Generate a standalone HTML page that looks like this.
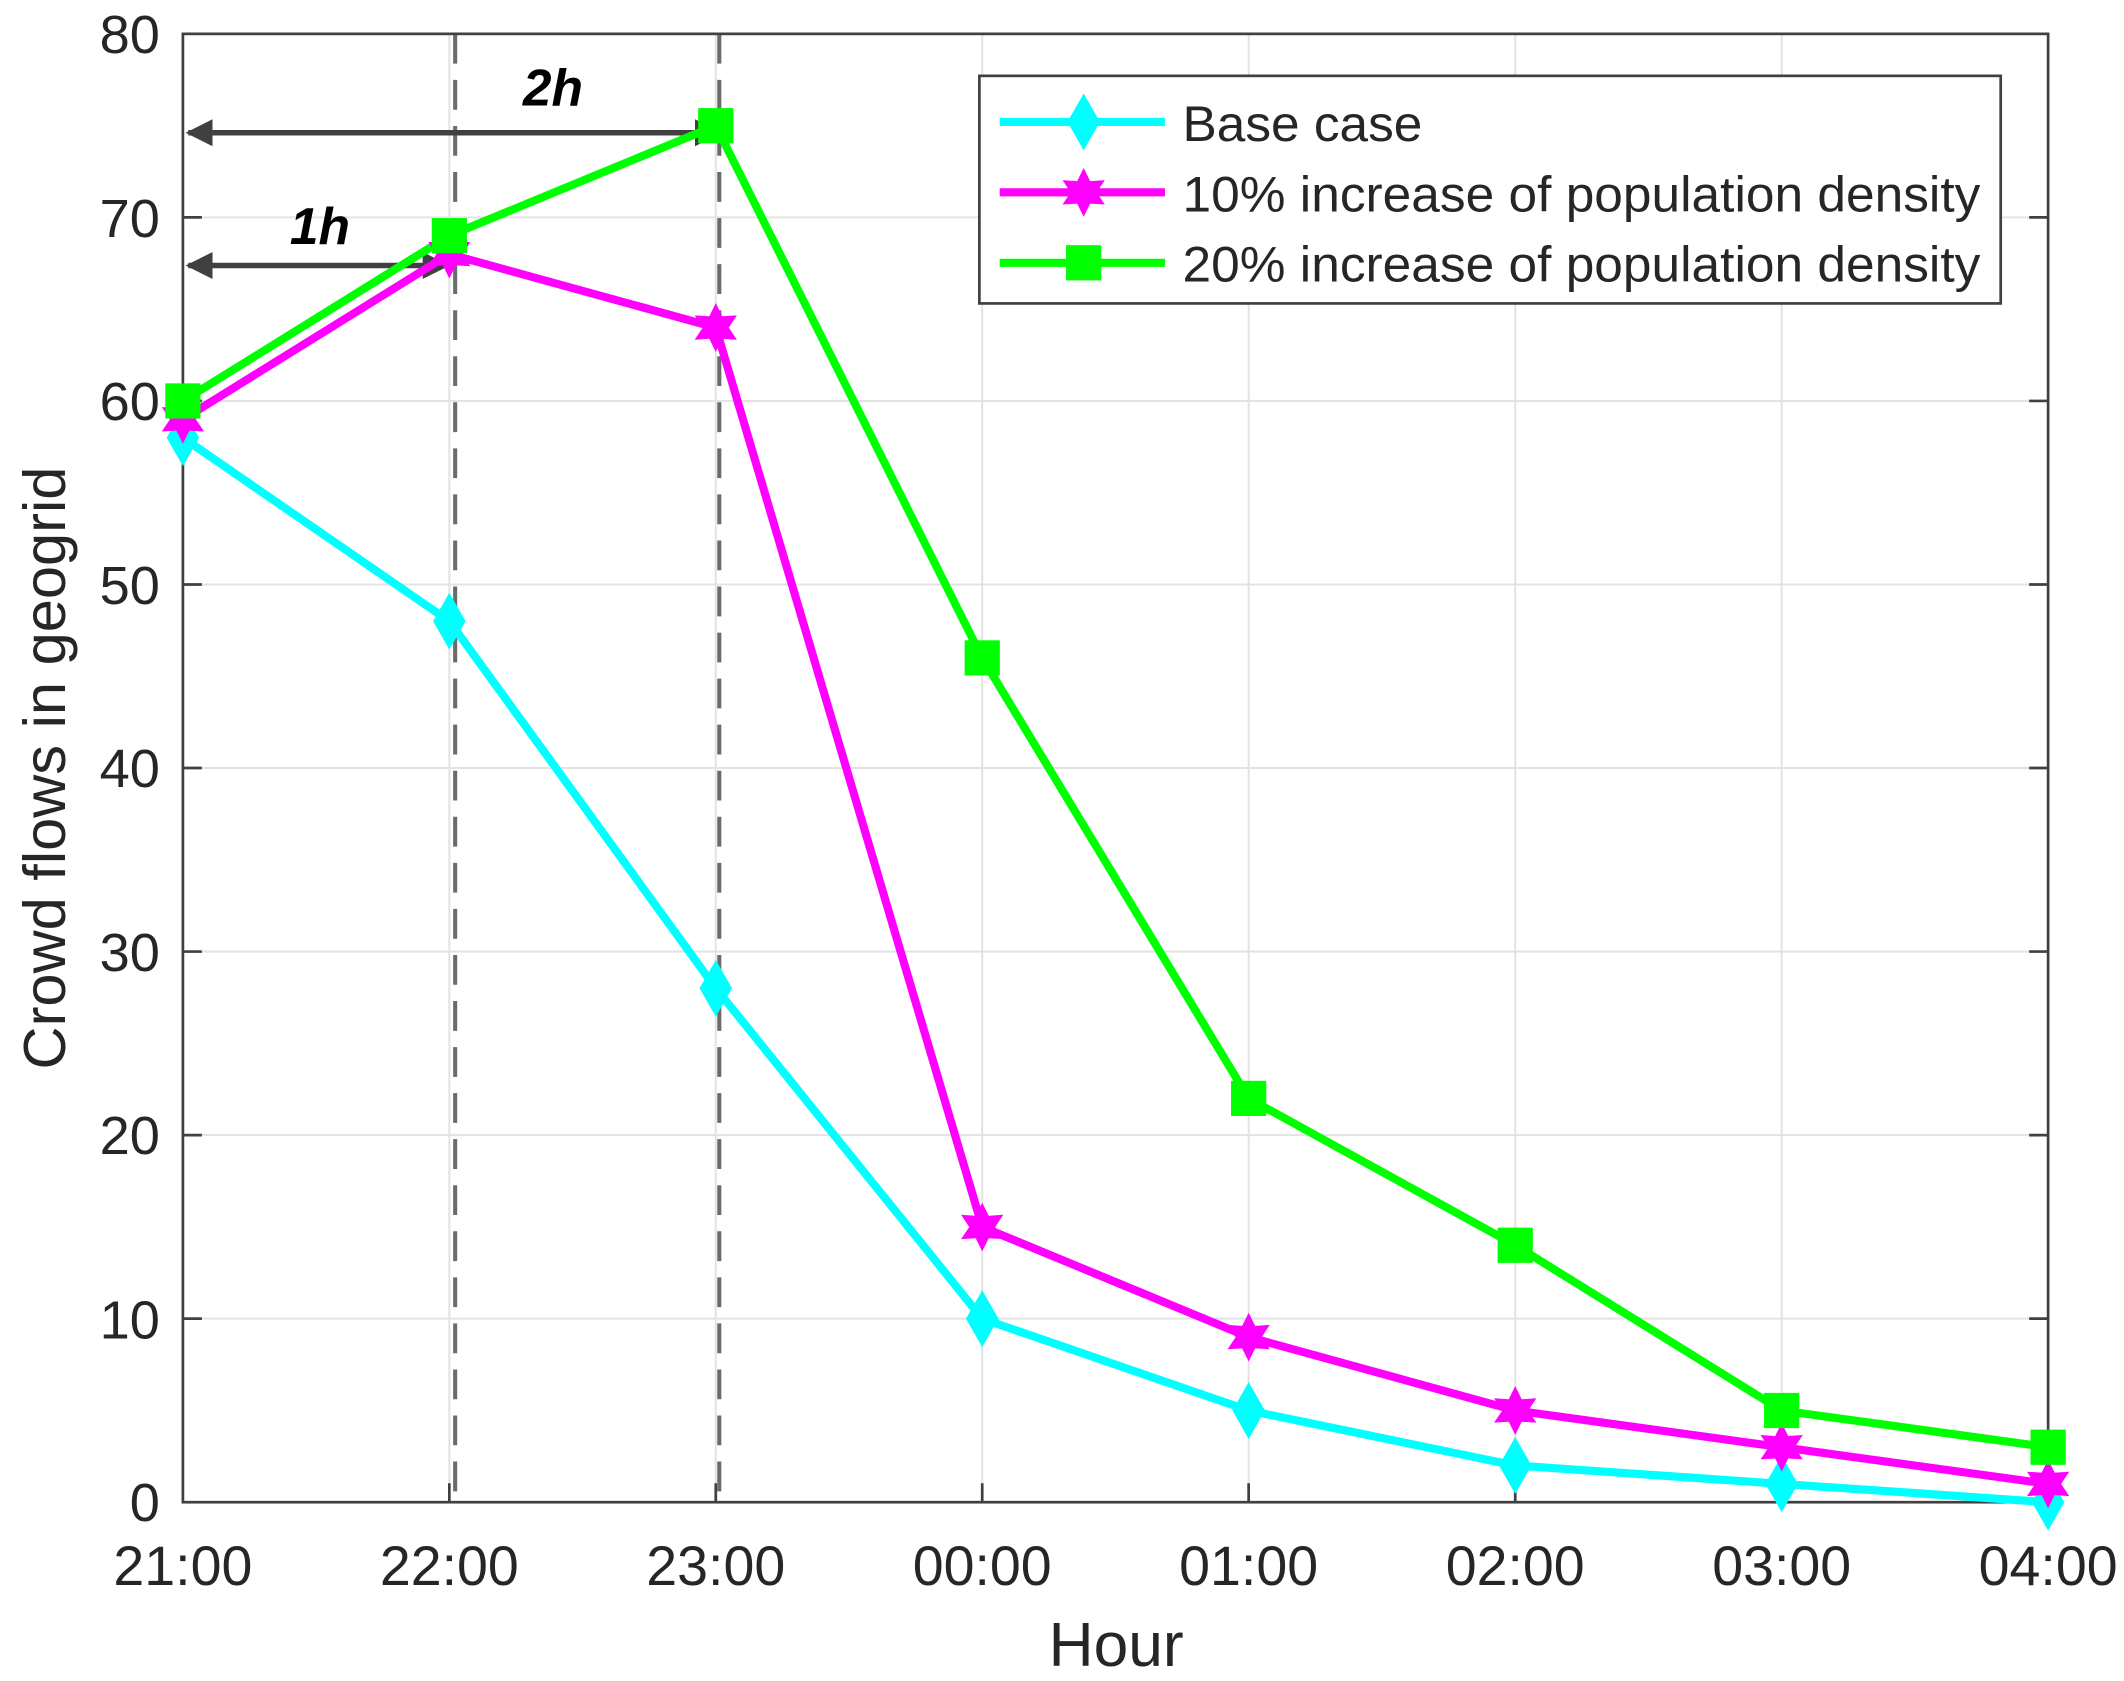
<!DOCTYPE html>
<html><head><meta charset="utf-8"><style>
html,body{margin:0;padding:0;background:#fff;}
svg{display:block;}
text{font-family:"Liberation Sans",Arial,sans-serif;fill:#262626;}
</style></head><body>
<svg width="2124" height="1681" viewBox="0 0 1568 1241" xmlns="http://www.w3.org/2000/svg">
<defs>
<polygon id="dia" points="0,-21 12,0 0,21 -12,0"/>
<rect id="sq" x="-13" y="-13" width="26" height="26"/>
<polygon id="star" points="0,-18 4.8,-8.3 15.6,-9 9.6,0 15.6,9 4.8,8.3 0,18 -4.8,8.3 -15.6,9 -9.6,0 -15.6,-9 -4.8,-8.3"/>
<marker id="ah" viewBox="0 0 10 10" refX="9" refY="5" markerWidth="5" markerHeight="5" orient="auto-start-reverse"><path d="M0,0 L10,5 L0,10 z" fill="#404040"/></marker>
</defs>
<rect x="0" y="0" width="1568" height="1241" fill="#fff"/>
<g stroke="#e3e3e3" stroke-width="1.5">
<line x1="331.7" y1="25" x2="331.7" y2="1109"/><line x1="528.4" y1="25" x2="528.4" y2="1109"/>
<line x1="725.1" y1="25" x2="725.1" y2="1109"/><line x1="921.8" y1="25" x2="921.8" y2="1109"/>
<line x1="1118.6" y1="25" x2="1118.6" y2="1109"/><line x1="1315.3" y1="25" x2="1315.3" y2="1109"/>
<line x1="135" y1="973.5" x2="1512" y2="973.5"/><line x1="135" y1="838" x2="1512" y2="838"/>
<line x1="135" y1="702.5" x2="1512" y2="702.5"/><line x1="135" y1="567" x2="1512" y2="567"/>
<line x1="135" y1="431.5" x2="1512" y2="431.5"/><line x1="135" y1="296" x2="1512" y2="296"/>
<line x1="135" y1="160.5" x2="1512" y2="160.5"/>
</g>
<g stroke="#6b6b6b" stroke-width="3" stroke-dasharray="22,12">
<line x1="336" y1="25" x2="336" y2="1109"/><line x1="531" y1="25" x2="531" y2="1109"/>
</g>
<g stroke="#404040" stroke-width="2" fill="none">
<rect x="135" y="25" width="1377" height="1084"/>
</g>
<g stroke="#404040" stroke-width="2">
<line x1="331.7" y1="1109" x2="331.7" y2="1095"/><line x1="528.4" y1="1109" x2="528.4" y2="1095"/>
<line x1="725.1" y1="1109" x2="725.1" y2="1095"/><line x1="921.8" y1="1109" x2="921.8" y2="1095"/>
<line x1="1118.6" y1="1109" x2="1118.6" y2="1095"/><line x1="1315.3" y1="1109" x2="1315.3" y2="1095"/>
<line x1="135" y1="973.5" x2="149" y2="973.5"/><line x1="135" y1="838" x2="149" y2="838"/>
<line x1="135" y1="702.5" x2="149" y2="702.5"/><line x1="135" y1="567" x2="149" y2="567"/>
<line x1="135" y1="431.5" x2="149" y2="431.5"/><line x1="135" y1="296" x2="149" y2="296"/>
<line x1="135" y1="160.5" x2="149" y2="160.5"/>
<line x1="1512" y1="973.5" x2="1498" y2="973.5"/><line x1="1512" y1="838" x2="1498" y2="838"/>
<line x1="1512" y1="702.5" x2="1498" y2="702.5"/><line x1="1512" y1="567" x2="1498" y2="567"/>
<line x1="1512" y1="431.5" x2="1498" y2="431.5"/><line x1="1512" y1="296" x2="1498" y2="296"/>
<line x1="1512" y1="160.5" x2="1498" y2="160.5"/>
</g>
<g font-size="40" text-anchor="end">
<text x="118" y="1123">0</text><text x="118" y="988">10</text><text x="118" y="852">20</text>
<text x="118" y="717">30</text><text x="118" y="581">40</text><text x="118" y="446">50</text>
<text x="118" y="310">60</text><text x="118" y="175">70</text><text x="118" y="39">80</text>
</g>
<g font-size="41" text-anchor="middle">
<text x="135" y="1170">21:00</text><text x="331.7" y="1170">22:00</text><text x="528.4" y="1170">23:00</text>
<text x="725.1" y="1170">00:00</text><text x="921.8" y="1170">01:00</text><text x="1118.6" y="1170">02:00</text>
<text x="1315.3" y="1170">03:00</text><text x="1512" y="1170">04:00</text>
</g>
<text x="824" y="1230" font-size="46" text-anchor="middle">Hour</text>
<text transform="translate(48,567) rotate(-90)" font-size="44" text-anchor="middle">Crowd flows in geogrid</text>
<g stroke="#404040" stroke-width="4" marker-start="url(#ah)" marker-end="url(#ah)">
<line x1="139" y1="98" x2="531" y2="98"/>
<line x1="139" y1="196" x2="330" y2="196"/>
</g>
<g font-size="38" font-weight="bold" font-style="italic">
<text x="386" y="78" style="fill:#000">2h</text>
<text x="214" y="180" style="fill:#000">1h</text>
</g>
<g fill="none" stroke-width="6" stroke-linejoin="round">
<polyline stroke="#00ffff" points="135,323.1 331.7,458.6 528.4,729.6 725.1,973.5 921.8,1041.3 1118.6,1081.9 1315.3,1095.5 1512,1109"/>
<polyline stroke="#ff00ff" points="135,309.6 331.7,187.6 528.4,241.8 725.1,905.8 921.8,987.1 1118.6,1041.3 1315.3,1068.4 1512,1095.5"/>
<polyline stroke="#00ff00" points="135,296 331.7,174 528.4,92.8 725.1,485.7 921.8,810.9 1118.6,919.3 1315.3,1041.3 1512,1068.4"/>
</g>
<g fill="#00ffff">
<use href="#dia" x="135" y="323.1"/><use href="#dia" x="331.7" y="458.6"/><use href="#dia" x="528.4" y="729.6"/>
<use href="#dia" x="725.1" y="973.5"/><use href="#dia" x="921.8" y="1041.3"/><use href="#dia" x="1118.6" y="1081.9"/>
<use href="#dia" x="1315.3" y="1095.5"/><use href="#dia" x="1512" y="1109"/>
</g>
<g fill="#ff00ff">
<use href="#star" x="135" y="309.6"/><use href="#star" x="331.7" y="187.6"/><use href="#star" x="528.4" y="241.8"/>
<use href="#star" x="725.1" y="905.8"/><use href="#star" x="921.8" y="987.1"/><use href="#star" x="1118.6" y="1041.3"/>
<use href="#star" x="1315.3" y="1068.4"/><use href="#star" x="1512" y="1095.5"/>
</g>
<g fill="#00ff00">
<use href="#sq" x="135" y="296"/><use href="#sq" x="331.7" y="174"/><use href="#sq" x="528.4" y="92.8"/>
<use href="#sq" x="725.1" y="485.7"/><use href="#sq" x="921.8" y="810.9"/><use href="#sq" x="1118.6" y="919.3"/>
<use href="#sq" x="1315.3" y="1041.3"/><use href="#sq" x="1512" y="1068.4"/>
</g>
<rect x="723" y="56" width="754" height="168" fill="#fff" stroke="#404040" stroke-width="2"/>
<g stroke-width="6">
<line x1="738" y1="90" x2="860" y2="90" stroke="#00ffff"/>
<line x1="738" y1="142" x2="860" y2="142" stroke="#ff00ff"/>
<line x1="738" y1="194" x2="860" y2="194" stroke="#00ff00"/>
</g>
<use href="#dia" x="800" y="90" fill="#00ffff"/>
<use href="#star" x="800" y="142" fill="#ff00ff"/>
<use href="#sq" x="800" y="194" fill="#00ff00"/>
<g font-size="37">
<text x="873" y="104" textLength="177" lengthAdjust="spacingAndGlyphs">Base case</text>
<text x="873" y="156" textLength="589" lengthAdjust="spacingAndGlyphs">10% increase of population density</text>
<text x="873" y="208" textLength="589" lengthAdjust="spacingAndGlyphs">20% increase of population density</text>
</g>
</svg>
</body></html>
